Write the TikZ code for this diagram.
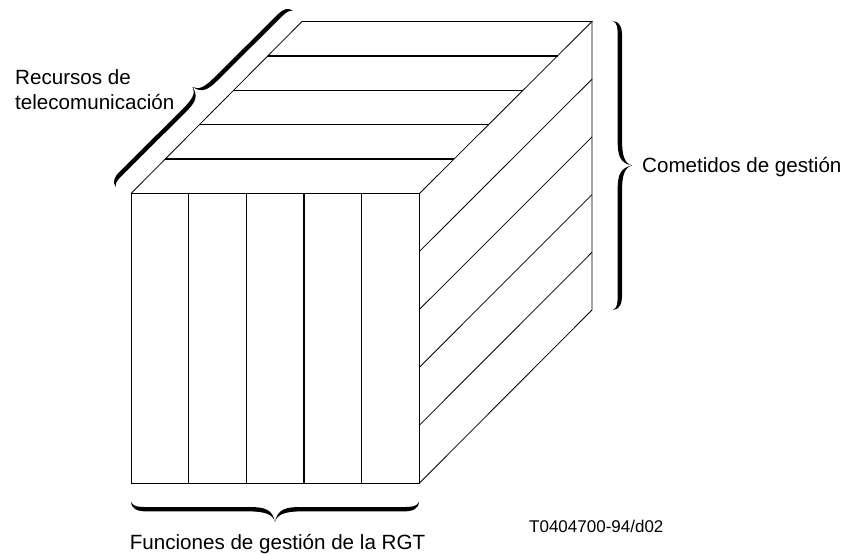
\documentclass[tikz,border=0pt]{standalone}
\usepackage{fontspec}
\setmainfont{Liberation Sans}
\usetikzlibrary{calc}
% calligraphic brace: start (sx,sy), unit direction (ux,uy), unit normal towards tip (vx,vy), length, amplitude
\newcommand{\bp}[2]{({\bsx+(#1)*\bux+(#2)*\bvx},{\bsy+(#1)*\buy+(#2)*\bvy})}
\newcommand{\calbrace}[8]{%
  \def\bsx{#1}\def\bsy{#2}\def\bux{#3}\def\buy{#4}\def\bvx{#5}\def\bvy{#6}%
  \pgfmathsetmacro{\bL}{#7}\pgfmathsetmacro{\ba}{#8}%
  \pgfmathsetmacro{\bh}{0.36*\ba}\pgfmathsetmacro{\bw}{2.2}%
  \pgfmathsetmacro{\bc}{0.8*\ba}\pgfmathsetmacro{\bd}{1.3*\ba}%
  \pgfmathsetmacro{\bm}{\bL/2}%
  \fill[black]
   \bp{0}{0}
   .. controls \bp{0.15*\bc}{\bh-\bw} and \bp{0.5*\bc}{\bh-\bw} .. \bp{\bc}{\bh-\bw}
   -- \bp{\bm-\bd}{\bh-\bw}
   .. controls \bp{\bm-0.4*\bd}{\bh-\bw} and \bp{\bm-0.1*\bd}{\bh} .. \bp{\bm}{\ba}
   .. controls \bp{\bm+0.1*\bd}{\bh} and \bp{\bm+0.4*\bd}{\bh-\bw} .. \bp{\bm+\bd}{\bh-\bw}
   -- \bp{\bL-\bc}{\bh-\bw}
   .. controls \bp{\bL-0.5*\bc}{\bh-\bw} and \bp{\bL-0.15*\bc}{\bh-\bw} .. \bp{\bL}{0}
   .. controls \bp{\bL-0.05*\bc}{\bh} and \bp{\bL-0.4*\bc}{\bh+\bw} .. \bp{\bL-\bc}{\bh+\bw}
   -- \bp{\bm+\bd}{\bh+\bw}
   .. controls \bp{\bm+0.4*\bd}{\bh+\bw} and \bp{\bm+0.08*\bd}{\bh+0.25*\ba} .. \bp{\bm}{\ba}
   .. controls \bp{\bm-0.08*\bd}{\bh+0.25*\ba} and \bp{\bm-0.4*\bd}{\bh+\bw} .. \bp{\bm-\bd}{\bh+\bw}
   -- \bp{\bc}{\bh+\bw}
   .. controls \bp{0.4*\bc}{\bh+\bw} and \bp{0.05*\bc}{\bh} .. \bp{0}{0} -- cycle;}
\begin{document}
\begin{tikzpicture}[x=1pt,y=-1pt,
  edge/.style={line width=0.8pt,line join=miter},
  divider/.style={line width=1.3pt},
  slant/.style={line width=0.8pt},
  lbl/.style={inner sep=0pt,font=\fontsize{20.6}{25}\selectfont},
  code/.style={inner sep=0pt,font=\fontsize{17}{20}\selectfont}]
\useasboundingbox (0,0) rectangle (848,554);
% cube corners
\coordinate (A) at (131,193.5);
\coordinate (B) at (419.5,193.5);
\coordinate (C) at (419.5,483);
\coordinate (D) at (131,483);
\coordinate (A2) at (302,21.5);
\coordinate (B2) at (592,21.5);
\coordinate (C2) at (592,310);
% outline
\draw[edge] (A) -- (B) -- (C) -- (D) -- cycle;
\draw[edge] (A) -- (A2) -- (B2) -- (B);
\draw[edge] (B2) -- (C2) -- (C);
% front verticals
\foreach \k in {1,2,3,4}
  \draw[divider] ($(A)!\k/5!(B)$) -- ($(D)!\k/5!(C)$);
% top horizontals
\foreach \k in {1,2,3,4}
  \draw[divider] ($(A)!\k/5!(A2)$) -- ($(B)!\k/5!(B2)$);
% right face diagonals
\foreach \k in {1,2,3,4}
  \draw[slant] ($(B)!\k/5!(C)$) -- ($(B2)!\k/5!(C2)$);
% braces
\calbrace{116}{187}{0.7092}{-0.7052}{-0.7052}{-0.7092}{249.6}{17}
\calbrace{613}{21}{0}{1}{1}{0}{289}{19}
\calbrace{131}{502}{1}{0}{0}{1}{288}{20}
% labels
\node[lbl,anchor=base west] (rec1) at (15,84) {Recursos de};
\node[lbl,anchor=base west] (rec2) at (15,109) {telecomunicación};
\node[lbl,anchor=base west] (com) at (642,172) {Cometidos de gestión};
\node[lbl,anchor=base] (fun) at (277.5,549) {Funciones de gestión de la RGT};
\node[code,anchor=base west] (id) at (529,532) {T0404700-94/d02};
\end{tikzpicture}
\end{document}
